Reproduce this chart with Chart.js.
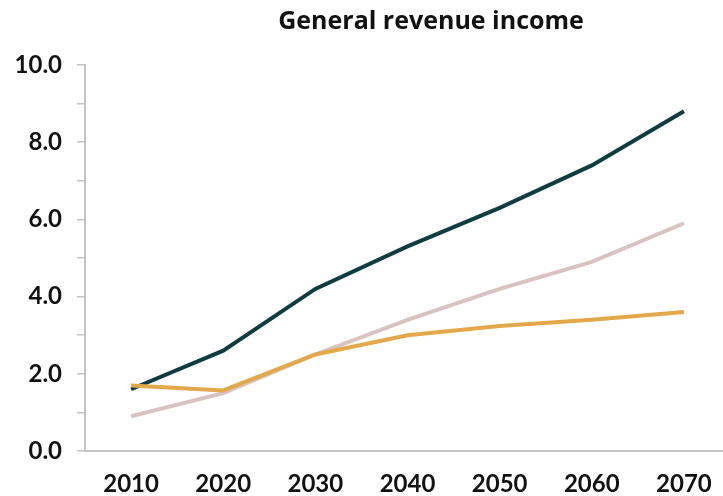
<!DOCTYPE html>
<html>
<head>
<meta charset="utf-8">
<script src="https://cdn.jsdelivr.net/npm/chart.js@4/dist/chart.umd.min.js"></script>
<style>
  html, body { margin: 0; padding: 0; background: #fff; overflow: hidden; }
  #wrap { width: 730px; height: 496px; }
</style>
</head>
<body>
<div id="wrap"><canvas id="myChart" width="730" height="496"></canvas></div>
<script>
const years = ["2010", "2020", "2030", "2040", "2050", "2060", "2070"];
const revenueHigh = [1.6, 2.6, 4.2, 5.3, 6.3, 7.4, 8.8];
const revenueMid = [0.9, 1.5, 2.5, 3.4, 4.2, 4.9, 5.9];
const revenueLow = [1.7, 1.57, 2.5, 3.0, 3.24, 3.4, 3.6];
const yTicks = [0, 2, 4, 6, 8, 10];

const FONT = "Lato, 'Open Sans', sans-serif";
const AXIS_GREY = "#c3c3c3";

// title sits a bit right of centre, so it is drawn by hand
const titlePlugin = {
  id: "titleText",
  afterDraw(chart) {
    const ctx = chart.ctx;
    ctx.save();
    ctx.font = "bold 25px 'Open Sans', sans-serif";
    ctx.fillStyle = "#111";
    ctx.textAlign = "center";
    ctx.textBaseline = "middle";
    ctx.fillText("General revenue income", 431, 22);
    ctx.restore();
  }
};

const ctx = document.getElementById("myChart");

new Chart(ctx, {
  type: "line",
  data: {
    labels: years,
    datasets: [
      { label: "low", data: revenueLow, borderColor: "#e3a84a", order: 1 },
      { label: "high", data: revenueHigh, borderColor: "#0f3c40", order: 2 },
      { label: "mid", data: revenueMid, borderColor: "#d9c3c2", order: 3 }
    ]
  },
  options: {
    responsive: false,
    animation: false,
    layout: { padding: { top: 65, left: 0, right: 0, bottom: 0 } },
    elements: {
      line: { borderWidth: 4, tension: 0, borderCapStyle: "butt" },
      point: { radius: 0 }
    },
    plugins: {
      legend: { display: false },
      title: { display: false },
      tooltip: { enabled: false }
    },
    scales: {
      x: {
        offset: true,
        // tick padding would otherwise leak into the side padding and height
        afterFit(scale) {
          scale.height = 45;
          scale.paddingLeft = 0;
          scale.paddingRight = 0;
        },
        grid: { display: false, drawTicks: false },
        border: { color: AXIS_GREY, width: 2 },
        ticks: {
          padding: 21,
          color: "#111",
          font: { family: FONT, size: 24, weight: "bold", lineHeight: 1 }
        }
      },
      y: {
        min: 0,
        max: 10,
        afterFit(scale) {
          scale.width = 85;
          scale.paddingTop = 0;
          scale.paddingBottom = 0;
        },
        grid: { drawOnChartArea: false, tickLength: 8, color: AXIS_GREY, lineWidth: 1.5 },
        border: { color: AXIS_GREY, width: 2 },
        ticks: {
          stepSize: 1,
          padding: 15,
          color: "#111",
          font: { family: FONT, size: 24, weight: "bold" },
          callback: (v) => yTicks.includes(v) ? v.toFixed(1) : ""
        }
      }
    }
  },
  plugins: [titlePlugin]
});
</script>
</body>
</html>
